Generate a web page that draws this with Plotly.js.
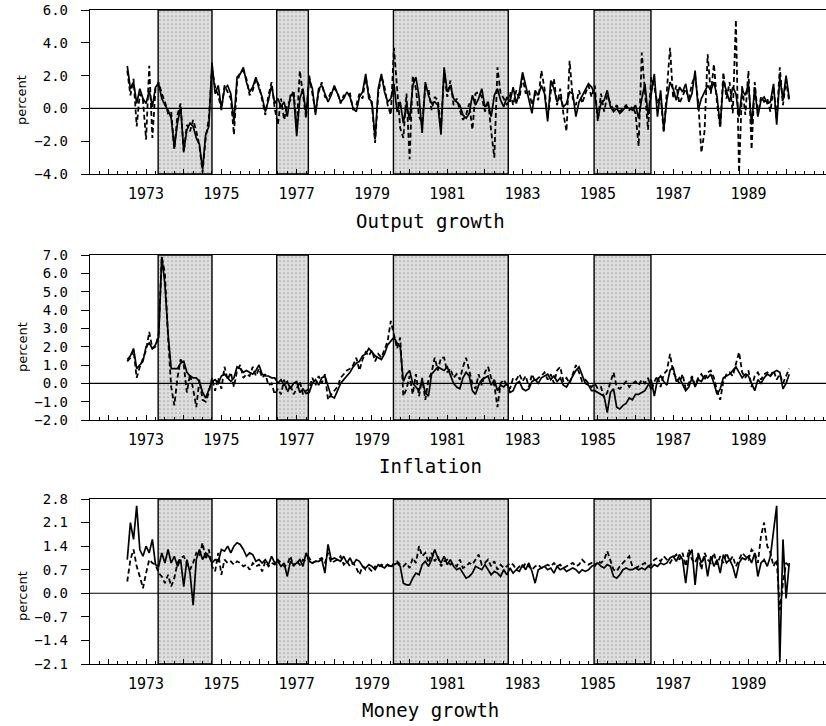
<!DOCTYPE html>
<html>
<head>
<meta charset="utf-8">
<script src="https://cdn.plot.ly/plotly-3.0.1.min.js"></script>
<style>html,body{margin:0;padding:0;background:#fff;}#chart{width:826px;height:726px;}</style>
</head>
<body>
<div id="chart"></div>
<script>
// Monthly observations, July 1972 - February 1990
const startYear = 1972.5;

const outputSolid = [
  2.6, 1.2, 1.6, 0.3, 1.2, 0.6,
  0.3, 1.1, 0.1, 1.3, 1.5, 0.6, 0.2, -0.1, -0.6, -2.4, -0.9, 0.1,
  -2.6, -1.3, -0.9, -1.1, -1.8, -2.2, -3.7, -1.6, -1.1, 2.8, 0.9, 1.4,
  0.0, 1.2, 1.4, 0.9, -0.8, 1.9, 2.1, 2.5, 1.6, 1.0, 1.3, 1.9,
  1.2, 0.7, -0.2, 0.5, 1.4, 0.3, 0.6, 0.1, 0.4, -0.5, 0.8, 0.9,
  -1.7, 0.6, 1.2, -0.4, 1.8, 1.2, -0.4, 1.2, 1.4, 0.9, 0.4, 0.8,
  1.4, 0.9, 0.4, 0.6, 1.0, 0.7, 0.0, -0.2, 0.7, 1.0, 2.1, 0.6,
  0.4, -1.9, 1.2, 2.1, 1.0, 0.4, 0.6, 1.5, -0.2, 0.4, -0.9, 0.3,
  -0.7, 1.4, 1.9, 0.7, -1.5, 1.6, 0.8, 0.3, 0.4, 0.2, -1.6, 2.5,
  1.0, 1.4, 0.6, 0.4, 0.2, -0.4, -0.6, -0.3, 0.8, 0.2, 0.6, 1.2,
  0.1, 0.3, -0.5, 0.8, 1.2, 0.5, 0.1, 0.7, 0.4, 1.3, 0.3, 1.0,
  2.2, 1.4, 0.6, -0.3, 1.1, 0.8, 1.4, 0.9, -0.8, 1.7, 1.2, 0.4,
  0.7, 0.1, 0.3, 1.0, 0.9, -0.5, 0.4, 0.8, 1.1, 1.5, 1.3, 0.9,
  -0.6, 0.3, 0.5, 1.1, 0.1, -0.2, 0.0, -0.3, -0.1, 0.1, 0.0, -0.1,
  0.2, -0.6, 0.6, 1.5, -0.4, 0.9, 2.1, -0.5, 1.1, -1.3, 0.5, 1.6,
  1.2, 0.5, 1.3, 1.0, 1.5, 0.4, 0.9, 2.3, -0.1, 0.6, 1.0, 1.4,
  1.1, 1.6, 0.7, -1.1, 1.7, 1.1, 0.4, 1.3, 0.9, -0.5, 1.1, 0.8,
  1.5, -1.0, 1.3, -0.5, 0.5, 0.7, 0.3, 0.4, 1.5, -1.0, 1.9, 0.5,
  2.0, 0.6
];
const outputDashed = [
  2.3, 0.8, 1.8, -1.1, 0.9, 0.5,
  -1.9, 2.6, -1.8, 1.2, 1.6, 0.9, 0.4, -0.3, -0.2, -2.5, -0.4, 0.3,
  -2.7, -1.0, -1.4, -0.7, -1.4, -2.3, -3.9, -1.8, -0.6, 2.4, 1.3, 0.8,
  -0.1, 1.4, 1.0, 0.6, -1.6, 1.6, 2.2, 2.3, 1.8, 0.8, 1.1, 1.8,
  1.4, 0.5, -0.4, 0.8, 1.6, 0.0, -1.0, 0.6, -0.7, 0.2, 0.5, 1.1,
  -1.2, 2.3, 0.8, -0.6, 2.0, 0.9, -0.2, 1.0, 1.6, 0.7, 0.6, 1.0,
  1.2, 1.0, 0.3, 0.8, 0.8, 0.9, -0.1, 0.2, 0.9, 0.6, 1.9, 0.9,
  0.2, -2.1, 0.9, 2.0, 1.3, 0.2, -0.4, 3.7, 1.2, -1.2, -1.8, 0.9,
  -3.1, 2.0, 1.2, -0.5, -0.9, 1.3, 1.2, -0.1, 0.7, 0.5, -1.2, 2.2,
  0.7, 1.7, 0.2, 0.6, -0.1, -0.7, -0.4, 0.3, -1.3, 0.9, 1.0, 0.7,
  -0.2, 0.5, -1.4, -3.0, 2.5, 0.9, 0.6, 0.2, 1.0, 0.2, 1.1, 0.6,
  1.9, 0.9, 1.1, 0.2, 0.9, 0.5, 2.3, 1.2, -0.6, 1.0, 1.8, 0.2,
  1.2, -0.3, -1.4, 2.9, 0.6, 0.2, 1.1, 0.3, 0.9, 1.4, 0.7, 1.4,
  -0.8, 0.9, -0.2, 0.8, 0.3, -0.1, 0.2, -0.2, 0.0, 0.2, -0.1, 0.1,
  -0.3, -2.3, 3.4, 0.8, -1.3, 1.9, 1.3, 0.3, 0.8, -1.5, 1.2, 3.7,
  0.6, 1.4, 0.3, 0.8, 1.2, 0.6, 1.5, 2.0, 0.4, -2.7, -1.4, 3.3,
  0.9, 2.7, 0.3, -1.2, 2.2, 0.6, 1.6, -0.3, 5.4, -3.9, 1.4, -0.4,
  2.3, -2.5, 1.6, -0.4, 0.7, 0.4, 0.6, -0.2, 1.3, -0.7, 2.5, 0.2,
  1.7, 0.4
];

const inflationSolid = [
  1.3, 1.5, 1.9, 0.8, 1.0, 1.2,
  2.0, 2.2, 1.9, 2.1, 2.5, 6.9, 5.4, 2.7, 0.8, 0.8, 0.8, 1.1,
  1.2, 0.6, 0.4, 0.3, 0.3, 0.1, -0.5, -0.8, -0.3, 0.1, 0.2, 0.0,
  0.4, 0.5, 0.3, 0.1, 0.3, 0.9, 0.8, 0.6, 0.7, 0.6, 0.5, 0.7,
  1.0, 0.5, 0.4, 0.4, 0.3, 0.3, 0.0, 0.2, -0.1, 0.1, -0.3, 0.0,
  0.1, -0.5, -0.3, -0.55, -0.5, 0.0, 0.2, -0.1, 0.3, 0.4, -0.2, -0.7,
  -0.8, -0.4, 0.0, 0.2, 0.4, 0.6, 0.9, 1.1, 1.2, 1.5, 1.6, 1.9,
  1.7, 1.5, 1.4, 1.3, 1.6, 2.1, 2.3, 2.5, 2.2, 2.0, 0.1, 0.5,
  0.7, 0.0, -0.2, -0.4, 0.2, -0.5, -0.7, 0.5, 0.7, 0.9, 0.8, 0.7,
  0.9, 0.4, 0.0, -0.2, -0.3, 0.3, 0.6, 0.4, -0.4, -0.6, -0.1, 0.2,
  0.3, 0.4, -0.1, 0.2, -0.4, -0.1, -0.2, 0.0, -0.5, -0.4, 0.0, 0.1,
  -0.3, -0.4, -0.3, 0.1, 0.2, 0.0, 0.3, 0.4, 0.5, 0.2, 0.4, 0.1,
  0.3, -0.1, -0.2, 0.1, 0.4, 0.7, 0.9, 0.5, 0.0, -0.1, -0.4, -0.4,
  -0.5, -0.6, -0.7, -1.6, -0.5, -0.3, -1.3, -1.4, -1.2, -1.1, -0.8, -0.9,
  -0.6, -0.6, -0.5, -0.4, -0.1, 0.2, -0.7, 0.2, 0.4, 0.1, -0.1, 0.7,
  0.9, 0.1, 0.3, -0.1, -0.4, -0.2, 0.3, -0.2, 0.2, 0.1, 0.4, 0.3,
  0.5, 0.0, -0.6, -0.3, 0.3, 0.4, 0.5, 0.7, 0.9, 0.6, 0.3, 0.5,
  0.4, 0.0, -0.4, 0.2, 0.0, 0.3, 0.5, 0.4, 0.6, 0.7, 0.6, -0.3,
  0.0, 0.5
];
const inflationDashed = [
  1.2, 1.4, 1.8, 0.3, 0.9, 1.3,
  1.8, 2.8, 1.9, 2.0, 2.7, 6.9, 6.0, 2.5, -0.2, -1.2, 0.3, 1.3,
  1.0, -0.5, 0.5, -0.3, -1.3, 0.2, -0.9, -1.0, -0.5, 0.3, -0.4, 0.3,
  -0.3, 0.9, 0.2, 0.6, -0.2, 0.7, 1.0, 0.3, 0.5, 0.4, 0.9, 0.4,
  0.8, 0.3, 0.5, -0.1, 0.0, -0.6, -0.3, -0.6, 0.2, -0.5, -0.1, -0.6,
  -0.3, 0.1, -0.6, -0.4, -0.3, 0.3, -0.1, 0.4, 0.0, 0.5, -0.9, -0.6,
  -0.4, -0.2, 0.3, 0.5, 0.7, 0.8, 1.0, 1.4, 0.7, 1.3, 1.7, 1.5,
  1.8, 1.2, 1.6, 1.4, 1.8, 2.3, 3.4, 2.6, 1.9, 2.5, -0.7, -0.3,
  0.4, -0.6, 0.5, -0.7, 0.3, -0.9, 0.2, 0.6, 1.4, 0.7, 1.4, 1.4,
  0.6, 0.8, 0.3, 0.5, 0.2, 0.9, 1.4, 0.7, 0.0, -0.3, 0.5, -0.1,
  0.6, 0.9, 0.3, -0.1, -1.3, 0.0, 0.2, -0.1, -0.3, 0.3, 0.2, 0.5,
  0.1, 0.4, -0.2, 0.5, 0.1, 0.3, 0.4, 0.6, 0.2, 0.5, 0.0, 0.7,
  0.9, 0.1, 0.3, 0.0, 0.5, 1.0, 0.6, 0.1, 0.2, 0.0, -0.2, 0.0,
  -0.3, -0.2, -0.8, -0.5, 0.1, 0.6, -0.2, -0.3, -0.1, 0.1, -0.2, 0.0,
  0.1, -0.1, 0.2, 0.0, 0.3, -0.4, 0.1, 0.4, -0.2, 0.5, 0.7, 1.6,
  0.6, 0.3, 0.0, 0.5, -0.3, 0.0, 0.4, -0.1, 0.3, 0.5, 0.2, 0.6,
  0.7, 0.3, -0.4, -0.9, 0.1, 0.5, 0.6, 0.4, 1.1, 1.7, 0.6, 0.3,
  0.7, -0.2, 0.4, 0.6, 0.2, 0.5, 0.6, 0.4, 0.7, 0.2, 0.5, 0.0,
  0.4, 0.8
];

const moneySolid = [
  1.0, 2.1, 1.6, 2.6, 1.3, 1.1,
  1.4, 1.2, 1.6, 0.85, 0.8, 1.2, 0.9, 1.3, 0.9, 1.1, 0.8, 1.0,
  0.2, 1.0, 0.6, -0.35, 1.0, 1.3, 1.0, 1.2, 1.1, 0.9, 1.0, 0.95,
  1.3, 1.25, 1.4, 1.2, 1.4, 1.5, 1.45, 1.3, 1.1, 1.2, 1.15, 0.95,
  1.0, 0.9, 1.0, 0.85, 1.1, 0.9, 0.95, 0.8, 0.9, 0.5, 0.95, 0.85,
  0.9, 1.0, 0.8, 1.2, 0.95, 0.9, 0.95, 0.95, 1.0, 0.6, 1.45, 1.0,
  1.05, 1.0, 0.95, 1.1, 0.9, 1.05, 0.85, 1.0, 0.95, 0.8, 0.75, 0.85,
  0.8, 0.7, 0.85, 0.8, 0.75, 0.85, 0.8, 0.85, 0.9, 0.8, 0.3, 0.25,
  0.25, 0.45, 0.6, 0.55, 0.85, 0.95, 0.8, 1.0, 1.3, 1.05, 0.9, 1.1,
  0.85, 1.0, 0.8, 0.7, 0.75, 0.6, 0.45, 0.5, 0.6, 0.8, 0.75, 0.7,
  0.85, 0.7, 0.55, 0.65, 0.6, 0.5, 0.7, 0.55, 0.75, 0.6, 0.7, 0.65,
  0.85, 0.7, 0.9, 0.65, 0.3, 0.7, 0.75, 0.8, 0.7, 0.75, 0.6, 0.8,
  0.7, 0.75, 0.65, 0.7, 0.75, 0.7, 0.6, 0.7, 0.65, 0.7, 0.8, 0.85,
  0.9, 0.8, 0.75, 0.85, 0.8, 0.5, 0.45, 0.55, 0.7, 0.75, 0.7, 0.7,
  0.75, 0.7, 0.75, 0.7, 0.8, 0.75, 0.85, 0.8, 0.9, 0.85, 0.9, 1.05,
  1.1, 0.95, 1.15, 1.0, 0.3, 1.1, 1.3, 0.25, 1.2, 0.9, 1.1, 0.5,
  1.1, 0.8, 1.0, 0.6, 1.15, 0.9, 1.0, 0.8, 0.45, 0.9, 1.05, 1.0,
  1.1, 0.9, 1.2, 0.5, 0.9, 1.0, 0.8, 1.1, 1.8, 2.6, -2.05, 1.6,
  -0.15, 0.9
];
const moneyDashed = [
  0.35, 1.0, 1.3, 0.8, 0.5, 0.15,
  0.6, 1.0, 0.9, 0.85, 0.6, 0.5, 0.3, 0.55, 0.2, 0.45, 0.9, 1.05,
  1.1, 0.9, 0.7, 0.9, 1.2, 1.1, 1.5, 1.0, 1.3, 0.8, 0.65, 1.2,
  0.55, 1.0, 0.9, 0.95, 0.85, 0.95, 0.9, 0.8, 0.85, 0.7, 0.9, 0.8,
  0.85, 0.65, 0.95, 0.8, 0.9, 0.85, 1.0, 0.9, 0.8, 0.85, 1.1, 0.8,
  0.95, 0.85, 1.0, 0.95, 1.05, 0.9, 0.95, 1.0, 1.05, 0.9, 1.2, 0.9,
  0.95, 1.0, 1.1, 0.85, 0.95, 0.8, 0.9, 0.75, 0.55, 0.8, 0.7, 0.75,
  0.65, 0.8, 0.75, 0.85, 0.8, 0.85, 0.75, 0.9, 0.95, 0.85, 0.8, 0.9,
  0.75, 1.05, 0.9, 1.4, 1.1, 1.2, 0.9, 1.2, 0.95, 1.1, 0.8, 0.95,
  1.0, 0.85, 0.9, 0.8, 1.0, 0.75, 0.8, 0.9, 0.85, 1.0, 1.15, 0.85,
  0.9, 1.0, 0.8, 0.95, 0.7, 0.85, 0.75, 0.8, 0.9, 0.85, 0.7, 0.8,
  0.75, 0.9, 0.8, 0.7, 0.8, 0.85, 0.75, 0.8, 0.85, 0.8, 0.9, 0.8,
  0.85, 0.75, 0.8, 0.85, 0.9, 0.8, 0.85, 1.0, 0.9, 0.85, 0.9, 0.8,
  0.95, 0.9, 1.0, 1.25, 1.0, 0.7, 0.65, 0.8, 0.9, 1.0, 1.1, 0.8,
  0.75, 0.8, 0.85, 0.9, 0.8, 0.85, 1.0, 1.05, 0.95, 1.1, 1.0, 0.9,
  1.05, 1.15, 1.0, 1.2, 0.8, 1.3, 1.0, 0.9, 1.15, 0.7, 1.2, 1.0,
  0.9, 1.2, 0.85, 1.1, 0.9, 1.2, 0.95, 1.1, 0.8, 1.0, 1.2, 1.1,
  1.0, 1.3, 1.2, 0.9, 1.7, 2.1, 1.4, 1.2, 0.8, 1.0, -0.5, 0.3,
  0.9, 0.8
];

// Shaded periods (decimal years)
const shadeStart = [1973.32, 1976.47, 1979.57, 1984.90];
const shadeEnd   = [1974.75, 1977.31, 1982.62, 1986.41];

// Axis ticks
const yearTicks = [1972,1973,1974,1975,1976,1977,1978,1979,1980,1981,1982,1983,1984,1985,1986,1987,1988,1989,1990];
const yearLabels = yearTicks.map(y => (y % 2 === 1) ? String(y) : '');
const outputTicks = [-4, -2, 0, 2, 4, 6];
const inflationTicks = [-2, -1, 0, 1, 2, 3, 4, 5, 6, 7];
const moneyTicks = [-2.1, -1.4, -0.7, 0, 0.7, 1.4, 2.1, 2.8];

const panelTitles = ['Output growth', 'Inflation', 'Money growth'];
const yRanges = [[-4, 6], [-2, 7], [-2.1, 2.8]];

const xs = outputSolid.map((_, i) => startYear + i / 12);

const H = 726;
const panelPx = [[10, 174], [255, 420], [499, 664]];
const domains = panelPx.map(p => [(H - p[1]) / H, (H - p[0]) / H]);

const traces = [];
const series = [[outputSolid, outputDashed], [inflationSolid, inflationDashed], [moneySolid, moneyDashed]];
series.forEach((pair, k) => {
  const xa = k === 0 ? 'x' : 'x' + (k + 1);
  const ya = k === 0 ? 'y' : 'y' + (k + 1);
  const r = yRanges[k];
  traces.push({
    type: 'bar', xaxis: xa, yaxis: ya,
    x: shadeStart.map((s, j) => (s + shadeEnd[j]) / 2),
    width: shadeStart.map((s, j) => shadeEnd[j] - s),
    base: shadeStart.map(() => r[0]),
    y: shadeStart.map(() => r[1] - r[0]),
    marker: {
      color: '#d9d9d9',
      pattern: {shape: '.', fgcolor: '#a6a6a6', bgcolor: '#dedede', size: 4, solidity: 0.15},
      line: {color: '#000', width: 1.4}
    },
    hoverinfo: 'skip', showlegend: false
  });
  traces.push({
    type: 'scatter', mode: 'lines', xaxis: xa, yaxis: ya, x: xs, y: pair[1],
    line: {color: '#000', width: 1.8, dash: '5px,3px'}, showlegend: false
  });
  traces.push({
    type: 'scatter', mode: 'lines', xaxis: xa, yaxis: ya, x: xs, y: pair[0],
    line: {color: '#000', width: 1.7}, showlegend: false
  });
});

const xRange = [1971.51, 1991.06];
const layout = {
  width: 826, height: 726,
  margin: {l: 90, r: 0, t: 0, b: 0},
  paper_bgcolor: '#fff', plot_bgcolor: '#fff',
  showlegend: false, barmode: 'overlay',
  font: {family: 'DejaVu Sans', color: '#000'},
  annotations: [], shapes: []
};
const tickSets = [outputTicks, inflationTicks, moneyTicks];
const titleY = [221, 466, 710];
const percentY = [100, 347, 596];
for (let k = 0; k < 3; k++) {
  const sfx = k === 0 ? '' : String(k + 1);
  layout['xaxis' + sfx] = {
    anchor: 'y' + sfx, domain: [0, 1], range: xRange, type: 'linear',
    tickmode: 'array', tickvals: yearTicks, ticktext: yearLabels,
    ticks: 'inside', ticklen: 5, tickwidth: 1, tickcolor: '#000',
    minor: {tickmode: 'linear', tick0: 0, dtick: 0.25, ticks: 'inside', ticklen: 3, tickcolor: '#000'},
    showline: true, linecolor: '#000', linewidth: 1.2, mirror: true,
    showgrid: false, zeroline: false,
    tickfont: {family: 'DejaVu Sans Mono', size: 15, color: '#000'},
    ticklabelstandoff: 6
  };
  layout['yaxis' + sfx] = {
    domain: domains[k], range: yRanges[k], anchor: 'x' + sfx,
    tickmode: 'array', tickvals: tickSets[k], tickformat: '.1f',
    ticks: 'outside', ticklen: 8, tickwidth: 1, tickcolor: '#000',
    showline: true, linecolor: '#000', linewidth: 1.2,
    showgrid: false, zeroline: false,
    tickfont: {family: 'DejaVu Sans Mono', size: 14, color: '#000'},
    ticklabelstandoff: 10
  };
  layout.shapes.push({
    type: 'line', xref: 'x' + sfx + ' domain', yref: 'y' + sfx,
    x0: 0, x1: 1, y0: 0, y1: 0, line: {color: '#000', width: 1.1}, layer: 'above'
  });
  layout.annotations.push({
    xref: 'paper', yref: 'paper', x: (430 - 90) / 736, y: (H - titleY[k]) / H,
    xanchor: 'center', yanchor: 'middle', showarrow: false,
    text: panelTitles[k], font: {family: 'DejaVu Sans Mono', size: 19, color: '#000'}
  });
  layout.annotations.push({
    xref: 'paper', yref: 'paper', x: (22 - 90) / 736, y: (H - percentY[k]) / H,
    xanchor: 'center', yanchor: 'middle', showarrow: false, textangle: -90,
    text: 'percent', font: {family: 'DejaVu Sans', size: 13, color: '#000'}
  });
}

Plotly.newPlot('chart', traces, layout, {staticPlot: true, displayModeBar: false});
</script>
</body>
</html>
